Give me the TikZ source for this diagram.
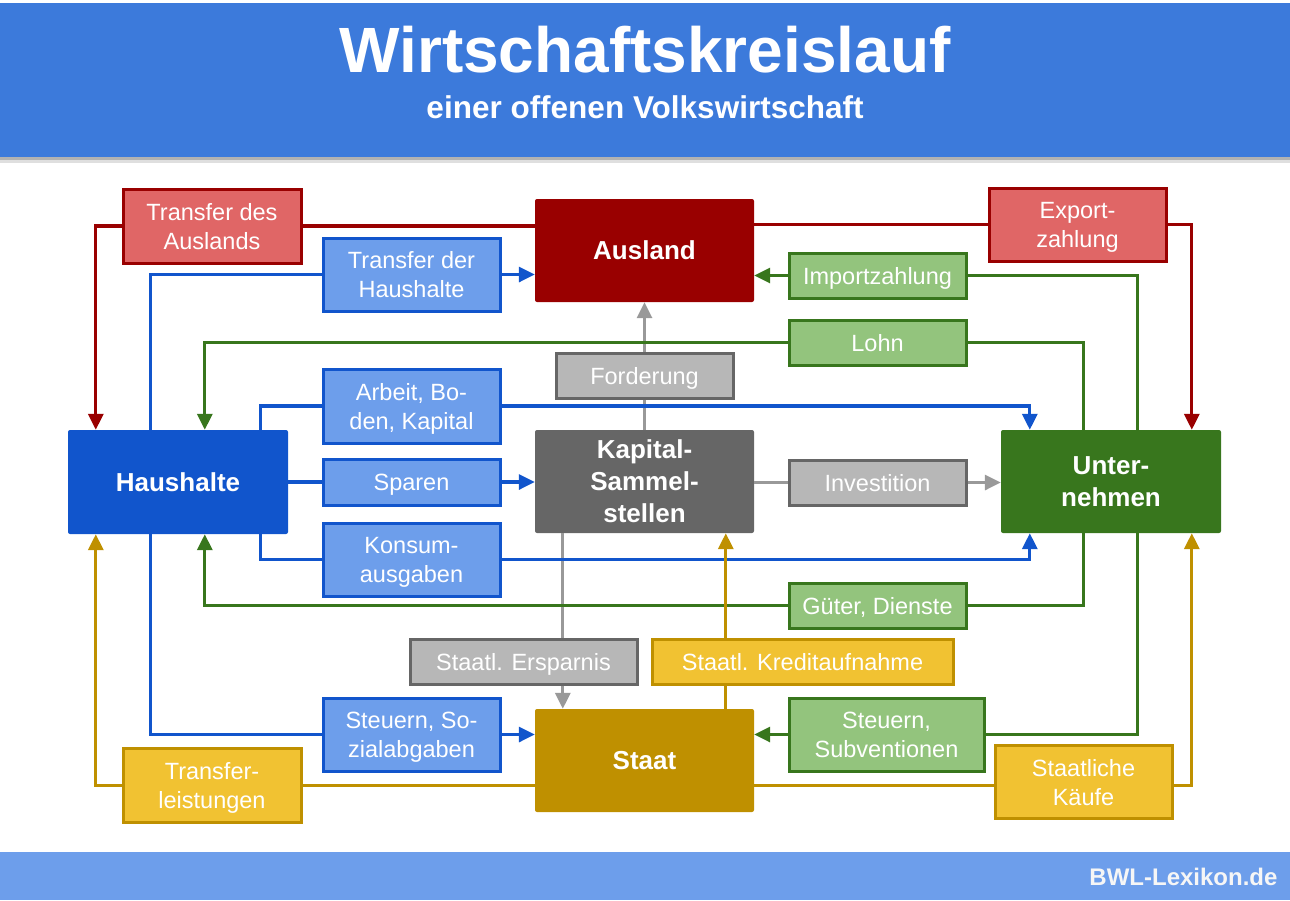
\documentclass[tikz,border=0pt]{standalone}
\usepackage{fontspec}
\setmainfont{Liberation Sans}
\usetikzlibrary{arrows.meta,calc}
\definecolor{rdD}{HTML}{990000}\definecolor{rdL}{HTML}{E06666}
\definecolor{blD}{HTML}{1155CC}\definecolor{blL}{HTML}{6D9EEB}
\definecolor{grD}{HTML}{38761D}\definecolor{grL}{HTML}{93C47D}
\definecolor{gyD}{HTML}{666666}\definecolor{gyL}{HTML}{B7B7B7}\definecolor{gyLine}{HTML}{999999}
\definecolor{ylD}{HTML}{BF9000}\definecolor{ylL}{HTML}{F1C232}
\definecolor{headblue}{HTML}{3C7ADB}\definecolor{footblue}{HTML}{6D9EEB}
\begin{document}
\begin{tikzpicture}[x=1pt,y=-1pt,
  mainbox/.style={rectangle,rounded corners=2,inner sep=0,align=center,text=white,text depth=0pt,
    font=\fontsize{26}{32}\selectfont\bfseries},
  lblbox/.style={rectangle,draw,line width=3,inner sep=0,align=center,text=white,text depth=0pt,
    font=\fontsize{23.5}{29}\selectfont},
  conn/.style={line width=3.2},
  arr/.style={-{Triangle[length=16pt,width=15pt]}},
]
\useasboundingbox (0,0) rectangle (1290,900);
% header and footer
\fill[gray!60] (0,157) rectangle (1290,160);
\fill[gray!25] (0,160) rectangle (1290,163);
\fill[headblue] (0,3) rectangle (1290,157);
\node[text=white,font=\fontsize{64}{70}\selectfont\bfseries] (title) at (645,50) {Wirtschaftskreislauf};
\node[text=white,font=\fontsize{31.5}{36}\selectfont\bfseries] (subtitle) at (645,107) {einer offenen Volkswirtschaft};
\fill[footblue] (0,852) rectangle (1290,900);
\node[anchor=east,text=white!93!gray,font=\fontsize{24}{28}\selectfont\bfseries] (brand) at (1281,877) {BWL-Lexikon.de};

% main nodes
\node[mainbox,fill=rdD,minimum width=219,minimum height=103] (aus) at (644.5,250.5) {Ausland};
\node[mainbox,fill=blD,minimum width=220,minimum height=104] (hh) at (178,482) {Haushalte};
\node[mainbox,fill=gyD,minimum width=219,minimum height=103] (kap) at (644.5,481.5) {Kapital-\\Sammel-\\stellen};
\node[mainbox,fill=grD,minimum width=220,minimum height=103] (un) at (1111,481.5) {Unter-\\nehmen};
\node[mainbox,fill=ylD,minimum width=219,minimum height=103] (st) at (644.5,760.5) {Staat};

% label boxes
\node[lblbox,draw=rdD,fill=rdL,minimum width=178,minimum height=74] (tda) at (212,226) {Transfer des\\Auslands};
\node[lblbox,draw=blD,fill=blL,minimum width=177,minimum height=73] (tdh) at (411.5,274.5) {Transfer der\\Haushalte};
\node[lblbox,draw=rdD,fill=rdL,minimum width=177,minimum height=73] (exp) at (1077.5,224.5) {Export-\\zahlung};
\node[lblbox,draw=grD,fill=grL,minimum width=177,minimum height=45] (imp) at (877.5,275.5) {Importzahlung};
\node[lblbox,draw=grD,fill=grL,minimum width=177,minimum height=45] (lohn) at (877.5,342.5) {Lohn};
\node[lblbox,draw=gyD,fill=gyL,minimum width=177,minimum height=45] (ford) at (644.5,375.5) {Forderung};
\node[lblbox,draw=blD,fill=blL,minimum width=177,minimum height=74] (arb) at (411.5,406) {Arbeit, Bo-\\den, Kapital};
\node[lblbox,draw=blD,fill=blL,minimum width=177,minimum height=46] (spa) at (411.5,482) {Sparen};
\node[lblbox,draw=gyD,fill=gyL,minimum width=177,minimum height=45] (inv) at (877.5,482.5) {Investition};
\node[lblbox,draw=blD,fill=blL,minimum width=177,minimum height=73] (kon) at (411.5,559.5) {Konsum-\\ausgaben};
\node[lblbox,draw=grD,fill=grL,minimum width=177,minimum height=45] (gut) at (877.5,605.5) {Güter, Dienste};
\node[lblbox,draw=gyD,fill=gyL,minimum width=227,minimum height=45] (ers) at (523.5,661.5) {Staatl. Ersparnis};
\node[lblbox,draw=ylD,fill=ylL,minimum width=301,minimum height=45] (kre) at (802.5,661.5) {Staatl. Kreditaufnahme};
\node[lblbox,draw=blD,fill=blL,minimum width=177,minimum height=73] (sts) at (411.5,734.5) {Steuern, So-\\zialabgaben};
\node[lblbox,draw=grD,fill=grL,minimum width=195,minimum height=73] (stv) at (886.5,734.5) {Steuern,\\Subventionen};
\node[lblbox,draw=ylD,fill=ylL,minimum width=178,minimum height=74] (trl) at (212,785.5) {Transfer-\\leistungen};
\node[lblbox,draw=ylD,fill=ylL,minimum width=177,minimum height=73] (kau) at (1083.5,782) {Staatliche\\Käufe};

% helper coordinates
\coordinate (hhN1) at ([xshift=28]hh.north west);
\coordinate (hhN2) at ([xshift=83]hh.north west);
\coordinate (hhN3) at ([xshift=137]hh.north west);
\coordinate (hhN4) at ([xshift=193]hh.north west);
\coordinate (hhS1) at ([xshift=28]hh.south west);
\coordinate (hhS2) at ([xshift=83]hh.south west);
\coordinate (hhS3) at ([xshift=137]hh.south west);
\coordinate (hhS4) at ([xshift=193]hh.south west);
\coordinate (unN1) at ([xshift=29]un.north west);
\coordinate (unN2) at ([xshift=83]un.north west);
\coordinate (unN3) at ([xshift=137]un.north west);
\coordinate (unN4) at ([xshift=191]un.north west);
\coordinate (unS1) at ([xshift=29]un.south west);
\coordinate (unS2) at ([xshift=83]un.south west);
\coordinate (unS3) at ([xshift=137]un.south west);
\coordinate (unS4) at ([xshift=191]un.south west);
\coordinate (kS) at ([xshift=28]kap.south west);
\coordinate (sN) at ([xshift=191]st.north west);
\coordinate (yl) at (trl.east);

% gray
\draw[conn,gyLine] (kap.north) -- (ford.south);
\draw[conn,gyLine,arr] (ford.north) -- (aus.south);
\draw[conn,gyLine] (kap.east |- inv.west) -- (inv.west);
\draw[conn,gyLine,arr] (inv.east) -- (un.west |- inv.east);
\draw[conn,gyLine] (kS) -- (kS |- ers.north);
\draw[conn,gyLine,arr] (kS |- ers.south) -- (kS |- st.north);
% red
\draw[conn,rdD] (aus.west |- tda.east) -- (tda.east);
\draw[conn,rdD,arr] (tda.west) -| (hhN1);
\draw[conn,rdD] (aus.east |- exp.west) -- (exp.west);
\draw[conn,rdD,arr] (exp.east) -| (unN4);
% green
\draw[conn,grD] (unN3) |- (imp.east);
\draw[conn,grD,arr] (imp.west) -- (aus.east |- imp.west);
\draw[conn,grD] (unN2) |- (lohn.east);
\draw[conn,grD,arr] (lohn.west) -| (hhN3);
\draw[conn,grD] (unS2) |- (gut.east);
\draw[conn,grD,arr] (gut.west) -| (hhS3);
\draw[conn,grD] (unS3) |- (stv.east);
\draw[conn,grD,arr] (stv.west) -- (st.east |- stv.west);
% blue
\draw[conn,blD] (hhN2) |- (tdh.west);
\draw[conn,blD,arr] (tdh.east) -- (aus.west |- tdh.east);
\draw[conn,blD] (hhN4) |- (arb.west);
\draw[conn,blD,arr] (arb.east) -| (unN1);
\draw[conn,blD] (hh.east |- spa.west) -- (spa.west);
\draw[conn,blD,arr] (spa.east) -- (kap.west |- spa.east);
\draw[conn,blD] (hhS4) |- (kon.west);
\draw[conn,blD,arr] (kon.east) -| (unS1);
\draw[conn,blD] (hhS2) |- (sts.west);
\draw[conn,blD,arr] (sts.east) -- (st.west |- sts.east);
% yellow
\draw[conn,ylD] (sN) -- (sN |- kre.south);
\draw[conn,ylD,arr] (sN |- kre.north) -- (sN |- kap.south);
\draw[conn,ylD] (st.west |- yl) -- (trl.east);
\draw[conn,ylD,arr] (trl.west) -| (hhS1);
\draw[conn,ylD] (st.east |- yl) -- (kau.west |- yl);
\draw[conn,ylD,arr] (kau.east |- yl) -| (unS4);
\end{tikzpicture}
\end{document}
